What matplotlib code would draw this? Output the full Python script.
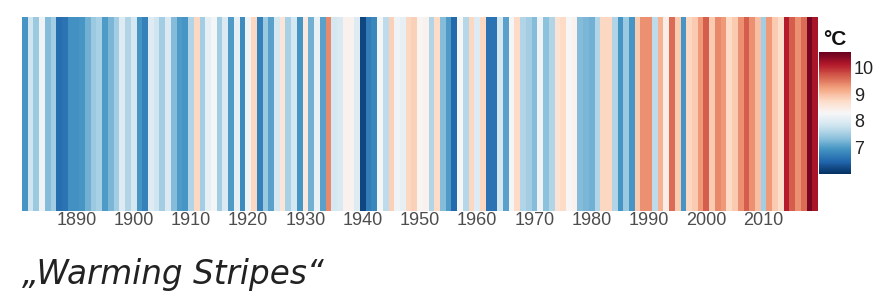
import matplotlib
matplotlib.use("Agg")
import matplotlib.pyplot as plt
import matplotlib.colors as mcolors

years = list(range(1881, 2020))
temps = [
    6.95, 7.85, 7.45, 8.20, 7.30, 7.50, 6.55, 6.60, 6.90, 6.90,   # 1881-1890
    6.95, 7.20, 7.45, 7.55, 7.00, 7.25, 7.50, 8.00, 7.60, 7.90,   # 1891-1900
    6.95, 6.75, 8.00, 7.85, 7.50, 7.95, 7.30, 7.00, 6.95, 7.60,   # 1901-1910
    8.80, 7.50, 8.10, 8.25, 7.50, 7.95, 7.00, 8.10, 6.85, 8.20,   # 1911-1920
    8.80, 6.75, 7.45, 7.05, 7.90, 8.60, 7.55, 7.90, 6.95, 8.55,   # 1921-1930
    7.20, 8.15, 7.05, 9.40, 7.90, 7.95, 8.40, 8.40, 8.00, 6.20,   # 1931-1940
    6.70, 6.80, 8.25, 7.70, 8.85, 8.20, 8.10, 8.80, 8.85, 8.35,   # 1941-1950
    8.40, 7.60, 8.75, 7.30, 7.00, 6.50, 8.30, 7.65, 8.80, 8.00,   # 1951-1960
    8.80, 6.60, 6.60, 7.90, 7.05, 8.25, 8.75, 7.60, 7.50, 7.30,   # 1961-1970
    8.20, 7.35, 7.60, 8.65, 8.75, 8.30, 8.40, 7.30, 7.25, 7.20,   # 1971-1980
    7.60, 8.80, 8.80, 7.60, 6.95, 7.45, 6.95, 8.90, 9.35, 9.35,   # 1981-1990
    7.70, 9.10, 8.45, 9.60, 8.90, 6.95, 8.80, 8.90, 9.30, 9.70,   # 1991-2000
    8.90, 9.40, 9.30, 8.75, 8.90, 9.35, 9.70, 9.35, 9.00, 7.50,   # 2001-2010
    9.30, 8.90, 8.70, 10.10, 9.70, 9.35, 9.60, 10.50, 10.20,      # 2011-2019
]
tick_years = [1890, 1900, 1910, 1920, 1930, 1940, 1950, 1960, 1970, 1980, 1990, 2000, 2010]
cbar_ticks = [7, 8, 9, 10]

vmin, vmax = 6.0, 10.6
cmap = plt.get_cmap("RdBu_r")
norm = mcolors.Normalize(vmin=vmin, vmax=vmax)

W, H = 885, 303
fig = plt.figure(figsize=(W / 100, H / 100), dpi=100)
plt.rcParams["font.family"] = ["Liberation Sans", "DejaVu Sans"]

# stripes
ax = fig.add_axes([22 / W, 1 - 211 / H, (818 - 22) / W, (211 - 17) / H])
ax.bar(years, [1] * len(years), width=1.0, bottom=0, color=cmap(norm(temps)),
       linewidth=0, align="center")
ax.set_xlim(years[0] - 0.5, years[-1] + 0.5)
ax.set_ylim(0, 1)
ax.set_yticks([])
ax.set_xticks(tick_years)
ax.set_xticklabels([str(y) for y in tick_years], fontsize=13, color="#4d4d4d")
ax.tick_params(axis="x", length=0, pad=1)
for s in ax.spines.values():
    s.set_visible(False)

# colour bar
cax = fig.add_axes([819 / W, 1 - 174 / H, 32 / W, 122 / H])
sm = plt.cm.ScalarMappable(norm=norm, cmap=cmap)
cb = fig.colorbar(sm, cax=cax, ticks=cbar_ticks)
cb.outline.set_visible(False)
cax.tick_params(length=0, labelsize=13, labelcolor="#222222", pad=2)
cax.set_title("°C", fontsize=15, fontweight="bold", loc="center", pad=5, color="#111111")

# caption
fig.text(22 / W, 1 - 284 / H, "\u201eWarming Stripes\u201c", fontsize=23.5,
         family="DejaVu Sans", style="oblique", color="#222222", va="baseline")

fig.savefig("out.png", dpi=100)
